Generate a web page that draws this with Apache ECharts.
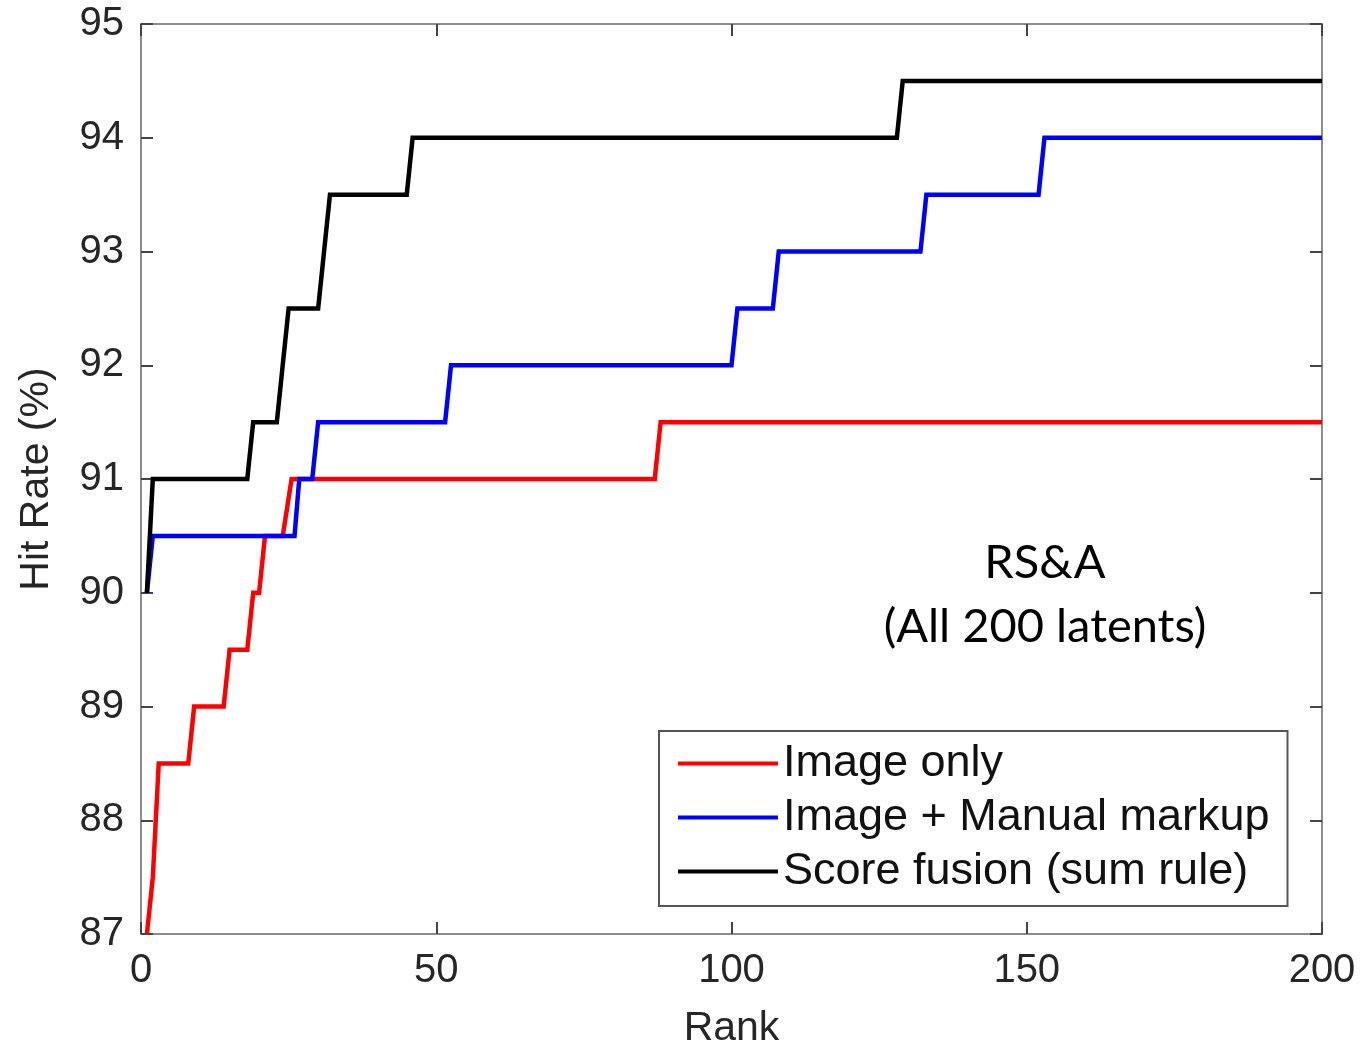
<!DOCTYPE html>
<html>
<head>
<meta charset="utf-8">
<script src="https://cdn.jsdelivr.net/npm/echarts@6/dist/echarts.min.js"></script>
<style>
  html, body { margin: 0; padding: 0; background: #fff; }
  #chart { width: 1371px; height: 1047px; }
</style>
</head>
<body>
<div id="chart"></div>
<script>
// step points [rank, hit rate]
var imageOnly = [[1, 87], [2, 87.5], [3, 88.5], [8, 88.5], [9, 89], [14, 89], [15, 89.5], [18, 89.5],
  [19, 90], [20, 90], [21, 90.5], [24, 90.5], [25.5, 91], [87, 91], [88, 91.5], [200, 91.5]];
var imageMarkup = [[1, 90], [2, 90.5], [26, 90.5], [26.8, 91], [29, 91], [30, 91.5], [51.5, 91.5], [52.5, 92],
  [100, 92], [101, 92.5], [107, 92.5], [108, 93], [132, 93], [133, 93.5], [152, 93.5], [153, 94], [200, 94]];
var scoreFusion = [[1, 90], [2, 91], [18, 91], [19, 91.5], [23, 91.5], [24, 92], [25, 92.5], [30, 92.5],
  [31, 93], [32, 93.5], [45, 93.5], [46, 94], [128, 94], [129, 94.5], [200, 94.5]];
var seriesNames = ['Image only', 'Image + Manual markup', 'Score fusion (sum rule)'];
var seriesColors = ['#ff0000', '#0000ff', '#000000'];
var noteLines = ['RS&A', '(All 200 latents)'];

var myChart = echarts.init(document.getElementById('chart'));
var axisGrey = '#8c8c8c';
var sans = 'Liberation Sans, Arial, sans-serif';
var tickText = { color: '#262626', fontSize: 40, fontFamily: sans };
var nameText = { color: '#262626', fontSize: 41, fontFamily: sans };

var option = {
  animation: false,
  backgroundColor: '#fff',
  grid: { left: 141, right: 49, top: 24, bottom: 113, outerBoundsMode: 'none', containLabel: false },
  legend: {
    data: seriesNames,
    orient: 'vertical',
    left: 659,
    top: 731,
    padding: [10, 18, 12, 19],
    itemGap: 9,
    itemWidth: 100,
    itemHeight: 4,
    icon: 'rect',
    borderColor: '#555',
    borderWidth: 2,
    backgroundColor: '#fff',
    textStyle: { color: '#111', fontSize: 45, lineHeight: 45, fontFamily: sans }
  },
  xAxis: [
    {
      type: 'value', min: 0, max: 200, interval: 50,
      name: 'Rank', nameLocation: 'middle', nameGap: 74,
      nameTextStyle: nameText,
      axisLine: { lineStyle: { color: axisGrey, width: 2 } },
      axisTick: { inside: true, length: 12, lineStyle: { color: '#444', width: 2 } },
      axisLabel: Object.assign({ margin: 17 }, tickText),
      splitLine: { show: false }
    },
    {
      type: 'value', min: 0, max: 200, interval: 50, position: 'top',
      axisLine: { onZero: false, lineStyle: { color: axisGrey, width: 2 } },
      axisTick: { inside: true, length: 12, lineStyle: { color: '#444', width: 2 } },
      axisLabel: { show: false },
      splitLine: { show: false }
    }
  ],
  yAxis: [
    {
      type: 'value', min: 87, max: 95, interval: 1,
      name: 'Hit Rate (%)', nameLocation: 'middle', nameGap: 84,
      nameTextStyle: nameText,
      axisLine: { show: true, lineStyle: { color: axisGrey, width: 2 } },
      axisTick: { show: true, inside: true, length: 12, lineStyle: { color: '#444', width: 2 } },
      axisLabel: Object.assign({ margin: 17 }, tickText),
      splitLine: { show: false }
    },
    {
      type: 'value', min: 87, max: 95, interval: 1, position: 'right',
      axisLine: { show: true, onZero: false, lineStyle: { color: axisGrey, width: 2 } },
      axisTick: { show: true, inside: true, length: 12, lineStyle: { color: '#444', width: 2 } },
      axisLabel: { show: false },
      splitLine: { show: false }
    }
  ],
  graphic: noteLines.map(function (t, i) {
    return {
      type: 'text', x: 1045, y: 563 + i * 64, z: 100,
      style: {
        text: t, align: 'center', verticalAlign: 'middle',
        fill: '#000', fontSize: 47, fontFamily: 'Lato, Open Sans, sans-serif'
      }
    };
  }),
  series: [imageOnly, imageMarkup, scoreFusion].map(function (d, i) {
    return {
      name: seriesNames[i],
      type: 'line',
      data: d,
      showSymbol: false,
      symbol: 'none',
      color: seriesColors[i],
      lineStyle: { width: 4.5, color: seriesColors[i], join: 'miter' },
      z: 2 + i
    };
  })
};
myChart.setOption(option);
window.addEventListener('resize', function () {
  myChart.resize();
});
</script>
</body>
</html>
